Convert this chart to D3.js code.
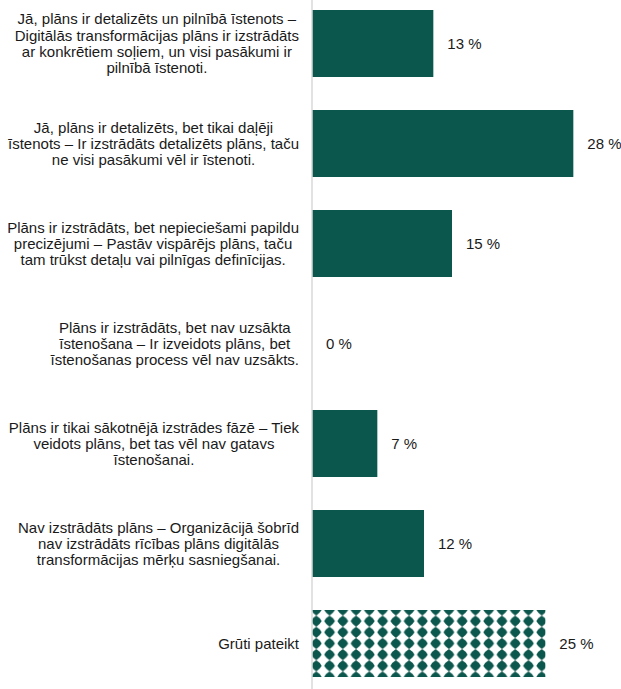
<!DOCTYPE html>
<html>
<head>
<meta charset="utf-8">
<script src="https://cdn.jsdelivr.net/npm/d3@7"></script>
<style>
  html, body { margin: 0; padding: 0; background: #fff; }
  svg { display: block; font-family: "Liberation Sans", Arial, sans-serif; }
</style>
</head>
<body>
<svg id="chart" width="621" height="689"></svg>
<script>
// Category labels (line breaks marked with "\n")
const categories = [
  "Jā, plāns ir detalizēts un pilnībā īstenots –\nDigitālās transformācijas plāns ir izstrādāts\nar konkrētiem soļiem, un visi pasākumi ir\npilnībā īstenoti.",
  "Jā, plāns ir detalizēts, bet tikai daļēji\nīstenots – Ir izstrādāts detalizēts plāns, taču\nne visi pasākumi vēl ir īstenoti.",
  "Plāns ir izstrādāts, bet nepieciešami papildu\nprecizējumi – Pastāv vispārējs plāns, taču\ntam trūkst detaļu vai pilnīgas definīcijas.",
  "Plāns ir izstrādāts, bet nav uzsākta\nīstenošana – Ir izveidots plāns, bet\nīstenošanas process vēl nav uzsākts.",
  "Plāns ir tikai sākotnējā izstrādes fāzē – Tiek\nveidots plāns, bet tas vēl nav gatavs\nīstenošanai.",
  "Nav izstrādāts plāns – Organizācijā šobrīd\nnav izstrādāts rīcības plāns digitālās\ntransformācijas mērķu sasniegšanai.",
  "Grūti pateikt"
];
// Share of respondents, %
const values = [13, 28, 15, 0, 7, 12, 25];
// Which bars use the patterned fill ("don't know" answer)
const patterned = [false, false, false, false, false, false, true];

const W = 621, H = 689;
const axisX = 312;
const barColor = "#0c574d";
const textColor = "#1a1a1a";
const fontSize = 15;

const svg = d3.select("#chart");

const x = d3.scaleLinear().domain([0, 30]).range([axisX, axisX + 280]);
const y = d3.scaleBand()
  .domain(d3.range(categories.length))
  .range([-6.5, 693.5])
  .paddingInner(0.33)
  .paddingOuter(0.165);

// Diamond pattern for the "Grūti pateikt" bar
const defs = svg.append("defs");
const tileW = 13.26, tileH = y.bandwidth() / 6;
const gi = patterned.indexOf(true);
const pat = defs.append("pattern")
  .attr("id", "diamonds")
  .attr("patternUnits", "userSpaceOnUse")
  .attr("width", tileW)
  .attr("height", tileH)
  .attr("x", x(0) + 4.3 - tileW / 2)
  .attr("y", y(gi) - tileH / 2);
pat.append("rect").attr("width", tileW).attr("height", tileH).attr("fill", "#fff");
{
  const cx = tileW / 2, cy = tileH / 2, rx = 5.4, ry = 5.5, b = 0.64;
  pat.append("path")
    .attr("fill", barColor)
    .attr("d",
      `M${cx},${cy - ry}` +
      `Q${cx + rx * b},${cy - ry * b} ${cx + rx},${cy}` +
      `Q${cx + rx * b},${cy + ry * b} ${cx},${cy + ry}` +
      `Q${cx - rx * b},${cy + ry * b} ${cx - rx},${cy}` +
      `Q${cx - rx * b},${cy - ry * b} ${cx},${cy - ry}Z`);
}

// Bars
svg.append("g").selectAll("rect")
  .data(values)
  .join("rect")
  .attr("x", x(0))
  .attr("y", (d, i) => y(i))
  .attr("width", d => x(d) - x(0))
  .attr("height", y.bandwidth())
  .attr("fill", (d, i) => patterned[i] ? "url(#diamonds)" : barColor);

// Vertical category axis line
svg.append("line")
  .attr("x1", axisX).attr("x2", axisX)
  .attr("y1", 0).attr("y2", H)
  .attr("stroke", "#d9d9d9")
  .attr("stroke-width", 1.5);

// Value labels
svg.append("g").selectAll("text")
  .data(values)
  .join("text")
  .attr("x", d => x(d) + 14)
  .attr("y", (d, i) => y(i) + y.bandwidth() / 2)
  .attr("dy", "0.35em")
  .attr("font-size", fontSize)
  .attr("fill", textColor)
  .text(d => d + " %");

// Category labels: block right-aligned to the axis, lines centred within it
const lineH = 16.2;
const labelRight = axisX - 13;
const lg = svg.append("g");
categories.forEach((c, i) => {
  const lines = c.split("\n");
  const cy = y(i) + y.bandwidth() / 2;
  const t = lg.append("text")
    .attr("font-size", fontSize)
    .attr("fill", textColor)
    .attr("text-anchor", "middle");
  const spans = lines.map((ln, k) => t.append("tspan")
    .attr("y", cy + (k - (lines.length - 1) / 2) * lineH)
    .attr("dy", "0.35em")
    .text(ln));
  const maxW = d3.max(spans, s => s.node().getComputedTextLength());
  spans.forEach(s => s.attr("x", labelRight - maxW / 2));
});
</script>
</body>
</html>
